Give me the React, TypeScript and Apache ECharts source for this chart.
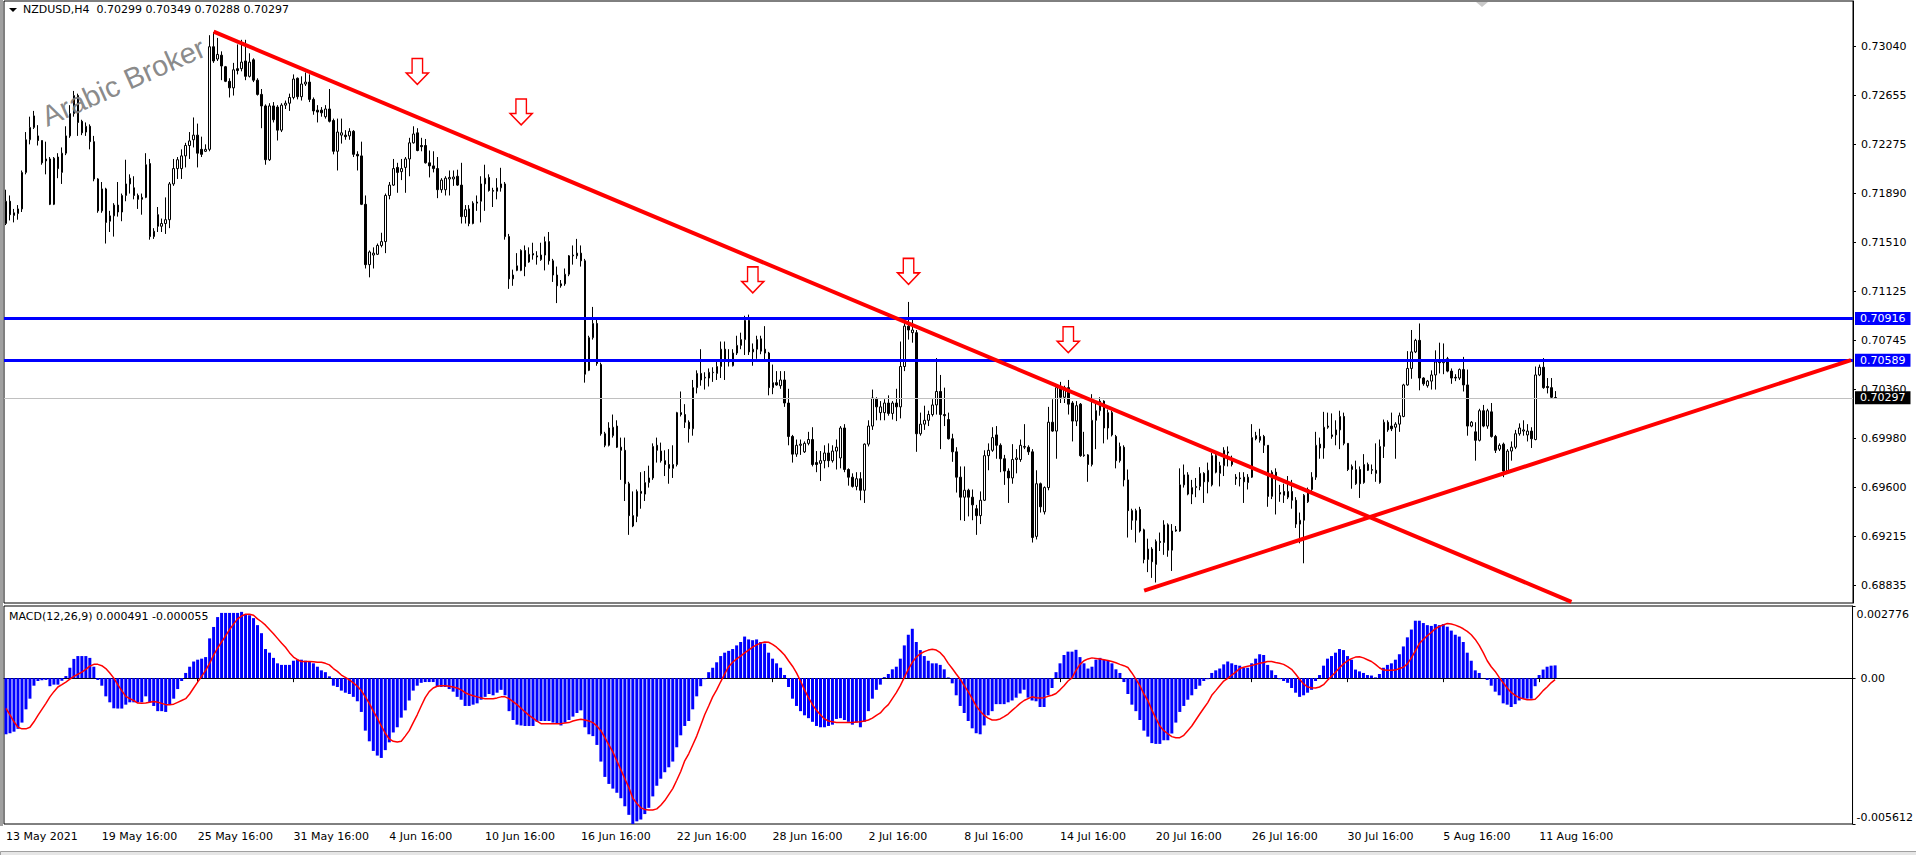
import React, { useEffect, useRef } from "react";
import * as echarts from "echarts";

// ---------- price data (H4 candles, NZDUSD) ----------
const openP = [
0.71657,0.71831,0.71720,0.71735,0.71771,0.72056,0.72311,0.72407,0.72341,0.72305,
0.72161,0.72161,0.71807,0.72176,0.72056,0.72206,0.72341,0.72515,0.72656,0.72455,
0.72371,0.72416,0.72296,0.72005,0.71756,0.71927,0.71675,0.71717,0.71801,0.71747,
0.71876,0.71966,0.71936,0.71876,0.71846,0.71861,0.72125,0.71555,0.71726,0.71636,
0.71657,0.71687,0.71966,0.72086,0.72086,0.72185,0.72266,0.72311,0.72347,0.72236,
0.72221,0.72236,0.73037,0.72941,0.72971,0.72881,0.72767,0.72716,0.72866,0.72866,
0.72926,0.72806,0.72935,0.72776,0.72665,0.72575,0.72155,0.72575,0.72566,0.72386,
0.72581,0.72596,0.72641,0.72791,0.72647,0.72746,0.72761,0.72626,0.72542,0.72542,
0.72491,0.72551,0.72461,0.72221,0.72347,0.72347,0.72341,0.72377,0.72197,0.72185,
0.71807,0.71336,0.71411,0.71417,0.71486,0.71516,0.71876,0.71957,0.72095,0.72062,
0.72095,0.72161,0.72287,0.72365,0.72266,0.72266,0.72131,0.72107,0.72086,0.71921,
0.71921,0.72005,0.72005,0.72026,0.71957,0.71711,0.71771,0.71657,0.71816,0.71831,
0.71966,0.72017,0.71915,0.71909,0.71936,0.71966,0.71555,0.71225,0.71291,0.71291,
0.71447,0.71357,0.71411,0.71396,0.71375,0.71411,0.71516,0.71366,0.71255,0.71186,
0.71186,0.71261,0.71405,0.71405,0.71426,0.71366,0.70511,0.70766,0.70877,0.70556,
0.70016,0.69926,0.70001,0.70076,0.69911,0.69887,0.69626,0.69377,0.69371,0.69566,
0.69545,0.69635,0.69671,0.69926,0.69881,0.69806,0.69776,0.69746,0.69776,0.70181,
0.70166,0.70106,0.70055,0.70376,0.70487,0.70451,0.70451,0.70493,0.70487,0.70541,
0.70676,0.70595,0.70547,0.70646,0.70706,0.70751,0.70901,0.70655,0.70676,0.70757,
0.70676,0.70646,0.70376,0.70415,0.70391,0.70436,0.70256,0.69995,0.69857,0.69926,
0.69875,0.69941,0.69971,0.69791,0.69785,0.69806,0.69866,0.69806,0.69881,0.69827,
0.70061,0.69737,0.69677,0.69605,0.69665,0.69575,0.69935,0.70076,0.70286,0.70181,
0.70181,0.70256,0.70175,0.70256,0.70226,0.70541,0.70856,0.70805,0.70805,0.70016,
0.70091,0.70121,0.70166,0.70241,0.70346,0.70166,0.70127,0.69977,0.69875,0.69677,
0.69521,0.69575,0.69521,0.69431,0.69377,0.69497,0.69845,0.69887,0.70007,0.69926,
0.69821,0.69725,0.69671,0.69815,0.69815,0.69911,0.69911,0.69875,0.69215,0.69626,
0.69407,0.69596,0.70106,0.70037,0.70376,0.70301,0.70376,0.70256,0.70115,0.70247,
0.69845,0.69851,0.69776,0.70121,0.70196,0.70271,0.70061,0.70181,0.69995,0.69806,
0.69911,0.69656,0.69416,0.69341,0.69425,0.69266,0.69035,0.69116,0.68996,0.69176,
0.69167,0.69305,0.69107,0.69257,0.69257,0.69617,0.69695,0.69545,0.69596,0.69605,
0.69707,0.69641,0.69617,0.69845,0.69707,0.69767,0.69866,0.69806,0.69677,0.69671,
0.69677,0.69635,0.69677,0.70001,0.69965,0.69995,0.69926,0.69527,0.69716,0.69557,
0.69566,0.69521,0.69566,0.69497,0.69311,0.69341,0.69485,0.69581,0.69677,0.69935,
0.69905,0.70067,0.70007,0.70007,0.70046,0.70151,0.69941,0.69737,0.69626,0.69737,
0.69635,0.69776,0.69737,0.69731,0.69635,0.69917,0.70106,0.70076,0.70067,0.70091,
0.70151,0.70397,0.70526,0.70655,0.70745,0.70451,0.70391,0.70427,0.70475,0.70586,
0.70571,0.70601,0.70505,0.70457,0.70451,0.70517,0.70397,0.70076,0.70031,0.69965,
0.70196,0.70076,0.70187,0.69995,0.69896,0.69935,0.69725,0.69881,0.69911,0.70016,
0.70037,0.70007,0.70037,0.69971,0.70475,0.70535,0.70385,0.70376,0.70299
];
const highP = [
0.71921,0.71876,0.71771,0.71801,0.72071,0.72371,0.72491,0.72536,0.72425,0.72305,
0.72296,0.72176,0.72176,0.72206,0.72251,0.72416,0.72581,0.72692,0.72671,0.72467,
0.72446,0.72431,0.72341,0.72011,0.71981,0.71936,0.71756,0.71816,0.71981,0.71891,
0.72155,0.72041,0.72026,0.71891,0.71891,0.72206,0.72161,0.71621,0.71786,0.71696,
0.71861,0.71981,0.72161,0.72176,0.72236,0.72287,0.72371,0.72485,0.72437,0.72335,
0.72275,0.73127,0.73151,0.73106,0.73001,0.72887,0.72791,0.72911,0.73055,0.73091,
0.73091,0.72986,0.72947,0.72791,0.72707,0.72587,0.72596,0.72605,0.72581,0.72596,
0.72617,0.72671,0.72821,0.72797,0.72806,0.72836,0.72821,0.72641,0.72581,0.72566,
0.72581,0.72707,0.72476,0.72476,0.72476,0.72386,0.72401,0.72386,0.72221,0.72296,
0.71876,0.71447,0.71471,0.71501,0.71585,0.71891,0.71981,0.72161,0.72131,0.72161,
0.72176,0.72326,0.72416,0.72401,0.72326,0.72317,0.72227,0.72221,0.72176,0.72011,
0.72026,0.72071,0.72071,0.72077,0.72131,0.71801,0.71801,0.71831,0.71876,0.72026,
0.72116,0.72041,0.71936,0.72011,0.72092,0.71981,0.71576,0.71297,0.71426,0.71456,
0.71486,0.71471,0.71507,0.71441,0.71507,0.71555,0.71591,0.71381,0.71321,0.71216,
0.71306,0.71411,0.71486,0.71537,0.71486,0.71381,0.70781,0.71006,0.70916,0.70571,
0.70031,0.70106,0.70166,0.70121,0.69986,0.69986,0.69641,0.69566,0.69581,0.69716,
0.69725,0.69767,0.69941,0.69986,0.69947,0.69887,0.69896,0.69926,0.70187,0.70346,
0.70247,0.70121,0.70436,0.70511,0.70676,0.70496,0.70526,0.70535,0.70586,0.70736,
0.70736,0.70676,0.70676,0.70781,0.70805,0.70937,0.70946,0.70721,0.70781,0.70781,
0.70856,0.70655,0.70556,0.70505,0.70505,0.70505,0.70367,0.70007,0.69971,0.69971,
0.69956,0.70031,0.70067,0.69881,0.69881,0.69926,0.69941,0.69926,0.69971,0.70076,
0.70091,0.69746,0.69707,0.69716,0.69716,0.69941,0.70121,0.70361,0.70301,0.70271,
0.70286,0.70316,0.70271,0.70367,0.70736,0.70886,0.71045,0.70925,0.70826,0.70181,
0.70235,0.70196,0.70286,0.70607,0.70475,0.70376,0.70181,0.70016,0.69911,0.69761,
0.69761,0.69587,0.69581,0.69461,0.69566,0.69887,0.69941,0.70067,0.70076,0.69941,
0.69851,0.69746,0.69935,0.69896,0.69971,0.70091,0.69926,0.69896,0.69731,0.69635,
0.69605,0.70226,0.70286,0.70391,0.70421,0.70391,0.70436,0.70271,0.70271,0.70256,
0.70031,0.69857,0.70325,0.70271,0.70301,0.70277,0.70205,0.70196,0.70007,0.69947,
0.69926,0.69737,0.69431,0.69431,0.69446,0.69275,0.69197,0.69131,0.69191,0.69245,
0.69341,0.69317,0.69311,0.69296,0.69746,0.69776,0.69716,0.69656,0.69671,0.69755,
0.69716,0.69791,0.69866,0.69857,0.69797,0.69911,0.69917,0.69845,0.69701,0.69716,
0.69716,0.69701,0.70091,0.70031,0.70055,0.70007,0.69926,0.69731,0.69746,0.69617,
0.69626,0.69686,0.69656,0.69521,0.69401,0.69545,0.69596,0.69716,0.70031,0.69986,
0.70187,0.70181,0.70175,0.70121,0.70196,0.70181,0.69941,0.69776,0.69806,0.69761,
0.69857,0.69791,0.69776,0.69941,0.69971,0.70127,0.70121,0.70181,0.70106,0.70181,
0.70406,0.70661,0.70826,0.70757,0.70877,0.70457,0.70436,0.70511,0.70667,0.70727,
0.70721,0.70616,0.70526,0.70481,0.70526,0.70616,0.70517,0.70115,0.70106,0.70211,
0.70241,0.70211,0.70256,0.70007,0.69941,0.69947,0.69896,0.69956,0.70046,0.70097,
0.70121,0.70091,0.70067,0.70541,0.70556,0.70607,0.70451,0.70451,0.70349
];
const lowP = [
0.71645,0.71681,0.71666,0.71687,0.71747,0.72041,0.72275,0.72395,0.72266,0.72116,
0.72041,0.71801,0.71801,0.72011,0.71966,0.72191,0.72326,0.72491,0.72341,0.72347,
0.72341,0.72236,0.71987,0.71741,0.71741,0.71501,0.71591,0.71555,0.71711,0.71675,
0.71831,0.71891,0.71846,0.71771,0.71726,0.71855,0.71531,0.71537,0.71591,0.71591,
0.71576,0.71621,0.71951,0.72005,0.72005,0.72095,0.72161,0.72251,0.72095,0.72176,
0.72215,0.72221,0.72911,0.72926,0.72776,0.72761,0.72641,0.72656,0.72821,0.72845,
0.72776,0.72797,0.72761,0.72656,0.72401,0.72116,0.72146,0.72446,0.72305,0.72371,
0.72551,0.72536,0.72626,0.72626,0.72617,0.72731,0.72605,0.72506,0.72446,0.72491,
0.72476,0.72446,0.72197,0.72071,0.72281,0.72311,0.72311,0.72176,0.72071,0.71801,
0.71306,0.71237,0.71306,0.71411,0.71471,0.71426,0.71846,0.71951,0.71897,0.71996,
0.71897,0.72026,0.72281,0.72221,0.72221,0.72125,0.72017,0.72056,0.71855,0.71897,
0.71876,0.71876,0.71951,0.71951,0.71657,0.71657,0.71636,0.71651,0.71756,0.71666,
0.71756,0.71906,0.71786,0.71846,0.71906,0.71531,0.71147,0.71171,0.71285,0.71285,
0.71246,0.71351,0.71375,0.71336,0.71366,0.71291,0.71336,0.71201,0.71036,0.71156,
0.71171,0.71246,0.71336,0.71381,0.71321,0.70415,0.70505,0.70751,0.70547,0.70001,
0.69911,0.69917,0.69986,0.69905,0.69656,0.69491,0.69227,0.69287,0.69326,0.69431,
0.69491,0.69596,0.69656,0.69791,0.69791,0.69686,0.69626,0.69671,0.69761,0.70151,
0.70061,0.69947,0.70001,0.70331,0.70391,0.70361,0.70385,0.70421,0.70436,0.70451,
0.70436,0.70541,0.70541,0.70631,0.70676,0.70631,0.70631,0.70547,0.70601,0.70637,
0.70595,0.70316,0.70325,0.70391,0.70367,0.70226,0.69926,0.69791,0.69836,0.69851,
0.69866,0.69926,0.69761,0.69716,0.69647,0.69746,0.69755,0.69791,0.69737,0.69746,
0.69716,0.69611,0.69596,0.69575,0.69497,0.69476,0.69917,0.70046,0.70121,0.70121,
0.70121,0.70157,0.70127,0.70115,0.70136,0.70505,0.70751,0.70727,0.69875,0.70001,
0.70046,0.70076,0.70151,0.70166,0.69896,0.70076,0.69971,0.69797,0.69557,0.69341,
0.69335,0.69371,0.69341,0.69227,0.69311,0.69491,0.69731,0.69875,0.69821,0.69716,
0.69617,0.69476,0.69626,0.69707,0.69797,0.69896,0.69851,0.69167,0.69191,0.69401,
0.69386,0.69575,0.70031,0.69821,0.70256,0.70256,0.70166,0.69956,0.70076,0.69836,
0.69836,0.69641,0.69761,0.69896,0.70157,0.69941,0.69971,0.69995,0.69746,0.69791,
0.69605,0.69206,0.69266,0.69167,0.69245,0.69005,0.68936,0.68891,0.68855,0.69101,
0.69071,0.69056,0.68945,0.69251,0.69251,0.69596,0.69536,0.69467,0.69521,0.69575,
0.69476,0.69551,0.69605,0.69707,0.69605,0.69686,0.69761,0.69761,0.69617,0.69605,
0.69476,0.69581,0.69671,0.69965,0.69947,0.69866,0.69446,0.69506,0.69386,0.69485,
0.69476,0.69506,0.69431,0.69281,0.69161,0.69005,0.69476,0.69566,0.69656,0.69821,
0.69821,0.70055,0.69977,0.69926,0.69896,0.69926,0.69725,0.69587,0.69617,0.69515,
0.69626,0.69725,0.69701,0.69641,0.69626,0.69827,0.70031,0.70037,0.69821,0.70031,
0.70145,0.70391,0.70445,0.70646,0.70355,0.70391,0.70376,0.70361,0.70361,0.70487,
0.70481,0.70496,0.70406,0.70427,0.70436,0.70346,0.70001,0.70067,0.69806,0.69956,
0.70067,0.70055,0.69986,0.69866,0.69881,0.69677,0.69707,0.69806,0.69896,0.70001,
0.70001,0.69956,0.69905,0.69965,0.70466,0.70367,0.70331,0.70295,0.70288
];
const closeP = [
0.71831,0.71726,0.71741,0.71771,0.72056,0.72311,0.72407,0.72497,0.72305,0.72131,
0.72146,0.71807,0.72167,0.72086,0.72206,0.72341,0.72515,0.72656,0.72446,0.72365,
0.72416,0.72296,0.72005,0.71756,0.71927,0.71666,0.71717,0.71801,0.71747,0.71876,
0.71966,0.72011,0.71876,0.71846,0.71861,0.72116,0.71555,0.71597,0.71636,0.71657,
0.71687,0.71966,0.72086,0.72155,0.72185,0.72266,0.72302,0.72347,0.72206,0.72197,
0.72236,0.73037,0.72926,0.72977,0.72887,0.72767,0.72716,0.72857,0.72851,0.72917,
0.72806,0.72917,0.72776,0.72665,0.72575,0.72155,0.72575,0.72467,0.72386,0.72581,
0.72596,0.72641,0.72785,0.72647,0.72746,0.72761,0.72626,0.72536,0.72527,0.72521,
0.72551,0.72455,0.72221,0.72371,0.72365,0.72335,0.72377,0.72197,0.72185,0.71807,
0.71336,0.71435,0.71426,0.71486,0.71516,0.71876,0.71957,0.72086,0.72056,0.72086,
0.72161,0.72287,0.72356,0.72227,0.72257,0.72131,0.72107,0.72086,0.71921,0.71996,
0.72011,0.72017,0.72020,0.71957,0.71711,0.71765,0.71657,0.71816,0.71825,0.71966,
0.72011,0.71915,0.71909,0.71936,0.71966,0.71555,0.71225,0.71255,0.71327,0.71447,
0.71321,0.71417,0.71423,0.71405,0.71411,0.71516,0.71366,0.71255,0.71171,0.71171,
0.71261,0.71405,0.71411,0.71426,0.71366,0.70481,0.70766,0.70877,0.70565,0.70016,
0.69926,0.70061,0.70067,0.69911,0.69887,0.69626,0.69377,0.69296,0.69566,0.69551,
0.69635,0.69671,0.69917,0.69887,0.69806,0.69776,0.69746,0.69776,0.70181,0.70166,
0.70106,0.70055,0.70376,0.70487,0.70436,0.70457,0.70496,0.70496,0.70541,0.70676,
0.70595,0.70577,0.70646,0.70706,0.70751,0.70901,0.70655,0.70676,0.70751,0.70661,
0.70646,0.70376,0.70415,0.70397,0.70436,0.70256,0.69995,0.69857,0.69926,0.69935,
0.69941,0.69971,0.69776,0.69776,0.69806,0.69866,0.69806,0.69881,0.69911,0.70061,
0.69737,0.69677,0.69605,0.69665,0.69575,0.69935,0.70076,0.70295,0.70226,0.70226,
0.70256,0.70175,0.70256,0.70226,0.70541,0.70856,0.70826,0.70826,0.70016,0.70091,
0.70121,0.70166,0.70241,0.70346,0.70166,0.70157,0.69977,0.69875,0.69677,0.69521,
0.69575,0.69521,0.69461,0.69377,0.69497,0.69845,0.69887,0.69986,0.69926,0.69821,
0.69725,0.69671,0.69815,0.69827,0.69926,0.69917,0.69875,0.69206,0.69626,0.69446,
0.69596,0.70106,0.70037,0.70376,0.70301,0.70376,0.70247,0.70115,0.70235,0.69845,
0.69851,0.69776,0.70121,0.70196,0.70271,0.70061,0.70181,0.70007,0.69806,0.69917,
0.69656,0.69416,0.69341,0.69416,0.69257,0.69035,0.69116,0.69017,0.69176,0.69167,
0.69305,0.69107,0.69257,0.69266,0.69617,0.69695,0.69545,0.69596,0.69605,0.69707,
0.69641,0.69731,0.69845,0.69716,0.69767,0.69887,0.69875,0.69776,0.69665,0.69665,
0.69641,0.69677,0.69986,0.69977,0.69995,0.69926,0.69527,0.69716,0.69677,0.69545,
0.69536,0.69566,0.69497,0.69311,0.69341,0.69536,0.69581,0.69677,0.69926,0.69905,
0.70067,0.70076,0.69995,0.70046,0.70151,0.69941,0.69737,0.69761,0.69737,0.69626,
0.69776,0.69731,0.69731,0.69707,0.69917,0.70106,0.70046,0.70055,0.70091,0.70157,
0.70397,0.70526,0.70655,0.70745,0.70451,0.70406,0.70427,0.70475,0.70577,0.70571,
0.70586,0.70505,0.70451,0.70451,0.70517,0.70397,0.70076,0.70106,0.69965,0.70196,
0.70076,0.70196,0.69995,0.69887,0.69926,0.69725,0.69881,0.69911,0.70016,0.70061,
0.70046,0.70037,0.69977,0.70475,0.70535,0.70376,0.70376,0.70301,0.70297
];

// ---------- MACD(12,26,9) ----------
const macdMain = [
-0.00216,-0.00212,-0.00206,-0.00195,-0.00171,-0.00120,-0.00079,-0.00029,-0.00011,-0.00008,
-0.00007,-0.00031,-0.00025,-0.00025,-0.00010,0.00008,0.00040,0.00074,0.00085,0.00085,
0.00085,0.00078,0.00044,-0.00007,-0.00029,-0.00070,-0.00093,-0.00116,-0.00117,-0.00117,
-0.00102,-0.00093,-0.00093,-0.00093,-0.00093,-0.00070,-0.00093,-0.00107,-0.00127,-0.00127,
-0.00130,-0.00100,-0.00079,-0.00042,-0.00011,0.00020,0.00044,0.00064,0.00071,0.00075,
0.00081,0.00153,0.00197,0.00235,0.00251,0.00251,0.00251,0.00251,0.00251,0.00255,
0.00245,0.00242,0.00231,0.00204,0.00173,0.00112,0.00098,0.00078,0.00057,0.00051,
0.00051,0.00051,0.00067,0.00071,0.00071,0.00067,0.00064,0.00057,0.00044,0.00030,
0.00023,0.00007,-0.00029,-0.00034,-0.00048,-0.00056,-0.00061,-0.00072,-0.00089,-0.00130,
-0.00202,-0.00243,-0.00280,-0.00298,-0.00307,-0.00277,-0.00247,-0.00209,-0.00189,-0.00152,
-0.00124,-0.00086,-0.00048,-0.00029,-0.00018,-0.00015,-0.00015,-0.00015,-0.00034,-0.00034,
-0.00034,-0.00042,-0.00052,-0.00072,-0.00083,-0.00107,-0.00107,-0.00102,-0.00097,-0.00083,
-0.00072,-0.00061,-0.00066,-0.00056,-0.00045,-0.00066,-0.00127,-0.00161,-0.00179,-0.00182,
-0.00184,-0.00184,-0.00184,-0.00168,-0.00165,-0.00165,-0.00165,-0.00171,-0.00175,-0.00182,
-0.00171,-0.00161,-0.00148,-0.00134,-0.00124,-0.00189,-0.00216,-0.00223,-0.00257,-0.00321,
-0.00380,-0.00407,-0.00425,-0.00441,-0.00462,-0.00493,-0.00526,-0.00561,-0.00551,-0.00544,
-0.00523,-0.00499,-0.00455,-0.00414,-0.00387,-0.00362,-0.00343,-0.00321,-0.00266,-0.00220,
-0.00184,-0.00165,-0.00120,-0.00070,-0.00031,-0.00004,0.00023,0.00040,0.00061,0.00085,
0.00098,0.00105,0.00112,0.00126,0.00139,0.00160,0.00149,0.00146,0.00149,0.00139,
0.00133,0.00098,0.00075,0.00057,0.00040,0.00012,-0.00034,-0.00079,-0.00107,-0.00127,
-0.00143,-0.00154,-0.00168,-0.00184,-0.00189,-0.00189,-0.00184,-0.00179,-0.00157,-0.00154,
-0.00161,-0.00168,-0.00179,-0.00171,-0.00189,-0.00168,-0.00127,-0.00079,-0.00045,-0.00025,
0.00004,0.00016,0.00034,0.00044,0.00075,0.00126,0.00167,0.00190,0.00139,0.00108,
0.00085,0.00067,0.00057,0.00057,0.00051,0.00034,0.00003,-0.00020,-0.00066,-0.00107,
-0.00134,-0.00165,-0.00193,-0.00212,-0.00216,-0.00182,-0.00143,-0.00127,-0.00100,-0.00100,
-0.00100,-0.00093,-0.00086,-0.00075,-0.00059,-0.00045,-0.00075,-0.00086,-0.00089,-0.00111,
-0.00111,-0.00066,-0.00038,0.00023,0.00057,0.00089,0.00102,0.00102,0.00109,0.00081,
0.00057,0.00037,0.00044,0.00071,0.00078,0.00071,0.00067,0.00057,0.00034,0.00020,
-0.00015,-0.00061,-0.00102,-0.00127,-0.00161,-0.00202,-0.00225,-0.00250,-0.00253,-0.00253,
-0.00239,-0.00239,-0.00213,-0.00171,-0.00130,-0.00107,-0.00083,-0.00066,-0.00042,-0.00029,
-0.00011,-0.00004,0.00020,0.00030,0.00037,0.00053,0.00064,0.00057,0.00051,0.00048,
0.00040,0.00040,0.00057,0.00075,0.00092,0.00089,0.00051,0.00030,0.00012,-0.00004,
-0.00011,-0.00018,-0.00038,-0.00056,-0.00072,-0.00066,-0.00056,-0.00045,-0.00011,0.00012,
0.00048,0.00075,0.00085,0.00098,0.00112,0.00108,0.00085,0.00071,0.00033,0.00026,
0.00020,0.00012,0.00010,0.00003,0.00016,0.00040,0.00051,0.00057,0.00071,0.00092,
0.00122,0.00157,0.00187,0.00221,0.00221,0.00212,0.00204,0.00201,0.00208,0.00204,
0.00208,0.00198,0.00183,0.00167,0.00160,0.00139,0.00098,0.00067,0.00030,0.00020,
-0.00001,-0.00007,-0.00029,-0.00052,-0.00066,-0.00097,-0.00102,-0.00111,-0.00100,-0.00086,
-0.00079,-0.00079,-0.00079,-0.00031,0.00012,0.00033,0.00044,0.00048,0.000491
];
const macdSignal = [
-0.00116,-0.00141,-0.00168,-0.00189,-0.00195,-0.00195,-0.00189,-0.00168,-0.00143,-0.00120,
-0.00097,-0.00072,-0.00052,-0.00034,-0.00025,-0.00015,-0.00004,0.00007,0.00015,0.00023,
0.00034,0.00046,0.00053,0.00053,0.00048,0.00037,0.00020,0.00000,-0.00025,-0.00048,
-0.00070,-0.00079,-0.00086,-0.00096,-0.00097,-0.00096,-0.00093,-0.00090,-0.00093,-0.00097,
-0.00102,-0.00102,-0.00100,-0.00093,-0.00086,-0.00079,-0.00061,-0.00038,-0.00015,0.00007,
0.00030,0.00057,0.00089,0.00116,0.00139,0.00163,0.00187,0.00208,0.00228,0.00239,
0.00246,0.00246,0.00242,0.00228,0.00217,0.00204,0.00187,0.00171,0.00153,0.00135,
0.00119,0.00098,0.00081,0.00071,0.00064,0.00064,0.00064,0.00063,0.00061,0.00061,
0.00057,0.00051,0.00037,0.00026,0.00012,0.00003,-0.00007,-0.00018,-0.00031,-0.00048,
-0.00072,-0.00097,-0.00127,-0.00154,-0.00184,-0.00212,-0.00234,-0.00243,-0.00246,-0.00243,
-0.00223,-0.00202,-0.00171,-0.00141,-0.00107,-0.00075,-0.00052,-0.00038,-0.00031,-0.00029,
-0.00029,-0.00031,-0.00034,-0.00038,-0.00045,-0.00056,-0.00063,-0.00068,-0.00072,-0.00076,
-0.00079,-0.00079,-0.00079,-0.00076,-0.00072,-0.00072,-0.00079,-0.00090,-0.00102,-0.00116,
-0.00130,-0.00143,-0.00154,-0.00165,-0.00175,-0.00175,-0.00175,-0.00175,-0.00175,-0.00175,
-0.00173,-0.00171,-0.00165,-0.00161,-0.00158,-0.00161,-0.00165,-0.00171,-0.00184,-0.00202,
-0.00229,-0.00257,-0.00284,-0.00318,-0.00352,-0.00387,-0.00421,-0.00462,-0.00482,-0.00499,
-0.00505,-0.00507,-0.00507,-0.00503,-0.00489,-0.00471,-0.00448,-0.00425,-0.00393,-0.00359,
-0.00318,-0.00291,-0.00257,-0.00223,-0.00182,-0.00141,-0.00107,-0.00072,-0.00045,-0.00014,
0.00016,0.00044,0.00061,0.00074,0.00085,0.00097,0.00108,0.00119,0.00128,0.00135,
0.00139,0.00138,0.00130,0.00119,0.00105,0.00089,0.00067,0.00046,0.00020,-0.00011,
-0.00045,-0.00075,-0.00102,-0.00124,-0.00141,-0.00157,-0.00165,-0.00168,-0.00171,-0.00171,
-0.00171,-0.00171,-0.00171,-0.00169,-0.00168,-0.00165,-0.00161,-0.00154,-0.00143,-0.00134,
-0.00116,-0.00102,-0.00079,-0.00056,-0.00029,0.00003,0.00034,0.00061,0.00081,0.00094,
0.00102,0.00108,0.00111,0.00108,0.00098,0.00081,0.00057,0.00037,0.00016,-0.00004,
-0.00029,-0.00052,-0.00079,-0.00107,-0.00127,-0.00143,-0.00154,-0.00161,-0.00161,-0.00157,
-0.00148,-0.00138,-0.00124,-0.00111,-0.00097,-0.00086,-0.00079,-0.00072,-0.00075,-0.00076,
-0.00075,-0.00070,-0.00066,-0.00059,-0.00045,-0.00029,-0.00011,0.00001,0.00030,0.00053,
0.00067,0.00074,0.00078,0.00076,0.00074,0.00071,0.00068,0.00064,0.00059,0.00053,
0.00048,0.00041,0.00020,-0.00004,-0.00029,-0.00061,-0.00086,-0.00123,-0.00154,-0.00184,
-0.00202,-0.00214,-0.00225,-0.00229,-0.00229,-0.00220,-0.00202,-0.00184,-0.00161,-0.00138,
-0.00116,-0.00094,-0.00066,-0.00048,-0.00029,-0.00011,-0.00001,0.00012,0.00023,0.00037,
0.00042,0.00046,0.00049,0.00053,0.00057,0.00060,0.00064,0.00064,0.00060,0.00057,
0.00053,0.00044,0.00034,0.00016,-0.00004,-0.00022,-0.00034,-0.00037,-0.00038,-0.00034,
-0.00025,-0.00008,0.00007,0.00023,0.00040,0.00055,0.00067,0.00075,0.00081,0.00082,
0.00078,0.00071,0.00064,0.00053,0.00040,0.00031,0.00030,0.00030,0.00031,0.00037,
0.00042,0.00055,0.00078,0.00105,0.00133,0.00149,0.00163,0.00176,0.00190,0.00199,
0.00205,0.00210,0.00208,0.00204,0.00198,0.00190,0.00180,0.00167,0.00149,0.00126,
0.00098,0.00067,0.00044,0.00026,0.00003,-0.00018,-0.00038,-0.00055,-0.00066,-0.00075,
-0.00079,-0.00083,-0.00083,-0.00081,-0.00066,-0.00048,-0.00034,-0.00018,-0.000055
];

// ---------- axes / annotations ----------
const priceTicks = [0.7304, 0.72655, 0.72275, 0.7189, 0.7151, 0.71125, 0.70745, 0.7036, 0.6998, 0.696, 0.69215, 0.68835];
const priceMin = 0.68695;
const priceMax = 0.73394;
const macdMax = 0.002776;
const macdMin = -0.005612;
const blueLevels = [0.70916, 0.70589];
const bidPrice = 0.70297;
const downTrend = [[52, 0.73155], [392, 0.68704]];
const upTrend = [[285, 0.68791], [462, 0.70591]];
const arrowMarks = [[103, 0.72844], [129, 0.72528], [187, 0.71217], [226, 0.71284], [266, 0.7075]];
const TOTAL_SLOTS = 463; // visible bar slots incl. chart shift
const START_UTC = Date.UTC(2021, 4, 13, 16);
const LABEL_EVERY = 24;

const MONTHS = ["Jan", "Feb", "Mar", "Apr", "May", "Jun", "Jul", "Aug", "Sep", "Oct", "Nov", "Dec"];
function buildCategories(n: number): string[] {
  const out: string[] = [];
  let t = START_UTC;
  while (out.length < n) {
    const d = new Date(t);
    const wd = d.getUTCDay();
    if (wd !== 0 && wd !== 6) {
      const day = d.getUTCDate();
      const mon = MONTHS[d.getUTCMonth()];
      if (out.length === 0) out.push(`${day} ${mon} ${d.getUTCFullYear()}`);
      else {
        const hh = String(d.getUTCHours()).padStart(2, "0");
        out.push(`${day} ${mon} ${hh}:00`);
      }
    }
    t += 4 * 3600 * 1000;
  }
  return out;
}

const FONT = "'DejaVu Sans', Verdana, sans-serif";
const ARROW_PATH = "path://M5.5,0 L15.5,0 L15.5,14 L21,14 L10.5,25 L0,14 L5.5,14 Z";

export default function App() {
  const ref = useRef<HTMLDivElement>(null);
  useEffect(() => {
    if (!ref.current) return;
    document.body.style.margin = "0";
    const chart = echarts.init(ref.current, undefined, { renderer: "svg" });
    const cats = buildCategories(TOTAL_SLOTS);
    const nBars = closeP.length;
    const showIdx = (i: number) => i % LABEL_EVERY === 0 && i < nBars;
    const candles = openP.map((o, i) => [o, closeP[i], lowP[i], highP[i]]);
    const boxLabel = (bg: string) => ({
      show: true,
      position: "end",
      distance: 2,
      formatter: (p: any) => Number(p.value).toFixed(5),
      color: "#fff",
      backgroundColor: bg,
      padding: [1, 5, 0, 5],
      fontSize: 11,
      lineHeight: 12,
      fontFamily: FONT,
    });

    chart.setOption({
      animation: false,
      backgroundColor: "#ffffff",
      textStyle: { fontFamily: FONT },
      grid: [
        { left: 4, top: 1, width: 1849, height: 602, show: true, borderColor: "#000", borderWidth: 1, backgroundColor: "transparent" },
        { left: 4, top: 606, width: 1849, height: 218, show: true, borderColor: "#000", borderWidth: 1, backgroundColor: "transparent" },
      ],
      xAxis: [
        {
          type: "category", gridIndex: 0, data: cats, boundaryGap: true,
          axisLine: { show: false }, axisTick: { show: false }, axisLabel: { show: false }, splitLine: { show: false },
        },
        {
          type: "category", gridIndex: 1, data: cats, boundaryGap: true,
          axisLine: { show: true, lineStyle: { color: "#000" } },
          axisTick: { show: true, alignWithLabel: true, interval: (i: number) => showIdx(i), length: 4, lineStyle: { color: "#000" } },
          axisLabel: { interval: (i: number) => showIdx(i), align: "left", margin: 7, color: "#000", fontSize: 11, fontFamily: FONT },
          splitLine: { show: false },
        },
      ],
      yAxis: [
        {
          type: "value", gridIndex: 0, position: "right", min: priceMin, max: priceMax,
          splitLine: { show: false },
          axisLine: { show: true, lineStyle: { color: "#000" } },
          axisTick: { show: true, length: 3, customValues: priceTicks, lineStyle: { color: "#000" } },
          axisLabel: { customValues: priceTicks, formatter: (v: number) => v.toFixed(5), color: "#000", fontSize: 11, margin: 8, fontFamily: FONT },
        },
        {
          type: "value", gridIndex: 1, position: "right", min: macdMin, max: macdMax,
          splitLine: { show: false },
          axisLine: { show: true, lineStyle: { color: "#000" } },
          axisTick: { show: true, length: 3, customValues: [macdMax, 0, macdMin], lineStyle: { color: "#000" } },
          axisLabel: {
            customValues: [macdMax, 0, macdMin],
            color: "#000", fontSize: 11, margin: 4, fontFamily: FONT,
            formatter: (v: number) => {
              if (v === 0) return "{m|0.00}";
              if (v > 0) return "{t|" + v.toFixed(6) + "}";
              return "{b|" + v.toFixed(6) + "}";
            },
            rich: {
              t: { fontSize: 11, fontFamily: FONT, color: "#000", padding: [16, 0, 0, 0] },
              m: { fontSize: 11, fontFamily: FONT, color: "#000", padding: [0, 0, 0, 4] },
              b: { fontSize: 11, fontFamily: FONT, color: "#000", padding: [0, 0, 14, 0] },
            },
          },
        },
      ],
      series: [
        {
          type: "candlestick", name: "NZDUSD", xAxisIndex: 0, yAxisIndex: 0,
          data: candles, barWidth: 2,
          itemStyle: { color: "#ffffff", color0: "#000000", borderColor: "#000000", borderColor0: "#000000", borderWidth: 1 },
          markLine: {
            silent: true, symbol: "none", animation: false, precision: 5,
            data: [
              { yAxis: bidPrice, lineStyle: { color: "#c0c0c0", width: 1, type: "solid" }, label: boxLabel("#000000") },
              { yAxis: blueLevels[0], lineStyle: { color: "#0000ff", width: 3, type: "solid" }, label: boxLabel("#0000ff") },
              { yAxis: blueLevels[1], lineStyle: { color: "#0000ff", width: 3, type: "solid" }, label: boxLabel("#0000ff") },
            ],
          },
          z: 3,
        },
        {
          type: "line", name: "down trend", xAxisIndex: 0, yAxisIndex: 0, data: downTrend,
          showSymbol: false, symbol: "none", lineStyle: { color: "#ff0000", width: 4 }, z: 5, clip: true,
        },
        {
          type: "line", name: "up trend", xAxisIndex: 0, yAxisIndex: 0, data: upTrend,
          showSymbol: false, symbol: "none", lineStyle: { color: "#ff0000", width: 4 }, z: 5, clip: true,
        },
        {
          type: "scatter", name: "arrows", xAxisIndex: 0, yAxisIndex: 0, data: arrowMarks,
          symbol: ARROW_PATH, symbolSize: [22, 26],
          itemStyle: { color: "#ffffff", borderColor: "#ff0000", borderWidth: 1.5, opacity: 1 }, z: 6,
        },
        {
          type: "bar", name: "MACD", xAxisIndex: 1, yAxisIndex: 1, data: macdMain,
          barWidth: 3, itemStyle: { color: "#0000ff" },
        },
        {
          type: "line", name: "Signal", xAxisIndex: 1, yAxisIndex: 1, data: macdSignal,
          showSymbol: false, symbol: "none", lineStyle: { color: "#ff0000", width: 1.5 }, z: 4,
        },
      ],
      graphic: [
        { type: "rect", left: 0, top: 0, shape: { x: 0, y: 0, width: 3, height: 826 }, style: { fill: "#a0a0a0" }, silent: true },
        { type: "rect", left: 0, top: 851, shape: { x: 0, y: 0, width: 1916, height: 4 }, style: { fill: "#e6e6e6", stroke: "#a0a0a0", lineWidth: 1 }, silent: true },
        { type: "polygon", shape: { points: [[9, 8], [17, 8], [13, 12]] }, style: { fill: "#000" }, silent: true },
        { type: "text", x: 23, y: 4, style: { text: "NZDUSD,H4  0.70299 0.70349 0.70288 0.70297", font: "11px " + FONT, fill: "#000", verticalAlign: "top" }, silent: true },
        { type: "text", x: 9, y: 611, style: { text: "MACD(12,26,9) 0.000491 -0.000055", font: "11px " + FONT, fill: "#000", verticalAlign: "top" }, silent: true },
        { type: "polygon", shape: { points: [[1476, 2], [1488, 2], [1482, 7]] }, style: { fill: "#c8c8c8" }, silent: true },
        {
          type: "text", x: 49, y: 131, rotation: 0.42, z: 100,
          style: { text: "Arabic Broker", font: "29px 'Liberation Sans', Arial, sans-serif", fill: "rgba(128,128,128,0.92)", verticalAlign: "bottom" },
          silent: true,
        },
      ],
    });
    return () => chart.dispose();
  }, []);
  return <div ref={ref} style={{ position: "absolute", left: 0, top: 0, width: 1916, height: 855 }} />;
}
